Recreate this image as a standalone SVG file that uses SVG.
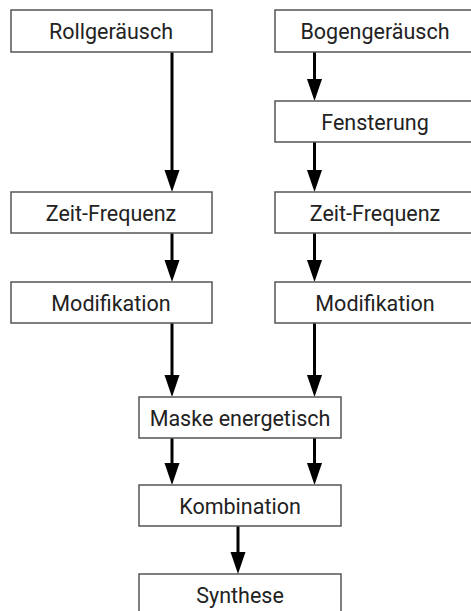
<svg xmlns="http://www.w3.org/2000/svg" width="471" height="611" viewBox="0 0 471 611">
<style>
.box{fill:#fff;stroke:#555;stroke-width:1.5}
.lbl{font-family:Roboto,"Liberation Sans",sans-serif;font-size:21.5px;fill:#222;text-anchor:middle}
.edge{stroke:#000;stroke-width:3;fill:none;marker-end:url(#ah)}
</style>
<defs>
<marker id="ah" markerUnits="userSpaceOnUse" markerWidth="22" markerHeight="16" viewBox="0 -8 22 16" refX="12" refY="0" orient="auto">
<path d="M0,-7.5 L22,0 L0,7.5 z" fill="#000"/>
</marker>
</defs>
<rect width="471" height="611" fill="#fff"/>
<g id="connectors">
<line class="edge" x1="172" y1="52" x2="172" y2="182"/>
<line class="edge" x1="314.5" y1="52" x2="314.5" y2="91"/>
<line class="edge" x1="314.5" y1="142" x2="314.5" y2="182"/>
<line class="edge" x1="172" y1="233" x2="172" y2="272"/>
<line class="edge" x1="314.5" y1="233" x2="314.5" y2="272"/>
<line class="edge" x1="172" y1="323" x2="172" y2="387"/>
<line class="edge" x1="314.5" y1="323" x2="314.5" y2="387"/>
<line class="edge" x1="172" y1="438" x2="172" y2="475"/>
<line class="edge" x1="314.5" y1="438" x2="314.5" y2="475"/>
<line class="edge" x1="238" y1="526" x2="238" y2="564"/>
</g>
<g id="rollgeraeusch"><rect class="box" x="11" y="10" width="201" height="42"/><text class="lbl" x="111" y="39">Rollgeräusch</text></g>
<g id="bogengeraeusch"><rect class="box" x="275" y="10" width="201" height="42"/><text class="lbl" x="375" y="39">Bogengeräusch</text></g>
<g id="fensterung"><rect class="box" x="275" y="101" width="201" height="41"/><text class="lbl" x="375" y="129.5">Fensterung</text></g>
<g id="zeitfrequenz-l"><rect class="box" x="11" y="192" width="201" height="41"/><text class="lbl" x="111" y="220.5">Zeit-Frequenz</text></g>
<g id="zeitfrequenz-r"><rect class="box" x="275" y="192" width="201" height="41"/><text class="lbl" x="375" y="220.5">Zeit-Frequenz</text></g>
<g id="modifikation-l"><rect class="box" x="11" y="282" width="201" height="41"/><text class="lbl" x="111" y="310.5">Modifikation</text></g>
<g id="modifikation-r"><rect class="box" x="275" y="282" width="201" height="41"/><text class="lbl" x="375" y="310.5">Modifikation</text></g>
<g id="maske"><rect class="box" x="139" y="397" width="202" height="41"/><text class="lbl" x="240" y="425.5">Maske energetisch</text></g>
<g id="kombination"><rect class="box" x="139" y="485" width="202" height="41"/><text class="lbl" x="240" y="513.5">Kombination</text></g>
<g id="synthese"><rect class="box" x="139" y="574" width="202" height="41"/><text class="lbl" x="240" y="602.5">Synthese</text></g>
</svg>
